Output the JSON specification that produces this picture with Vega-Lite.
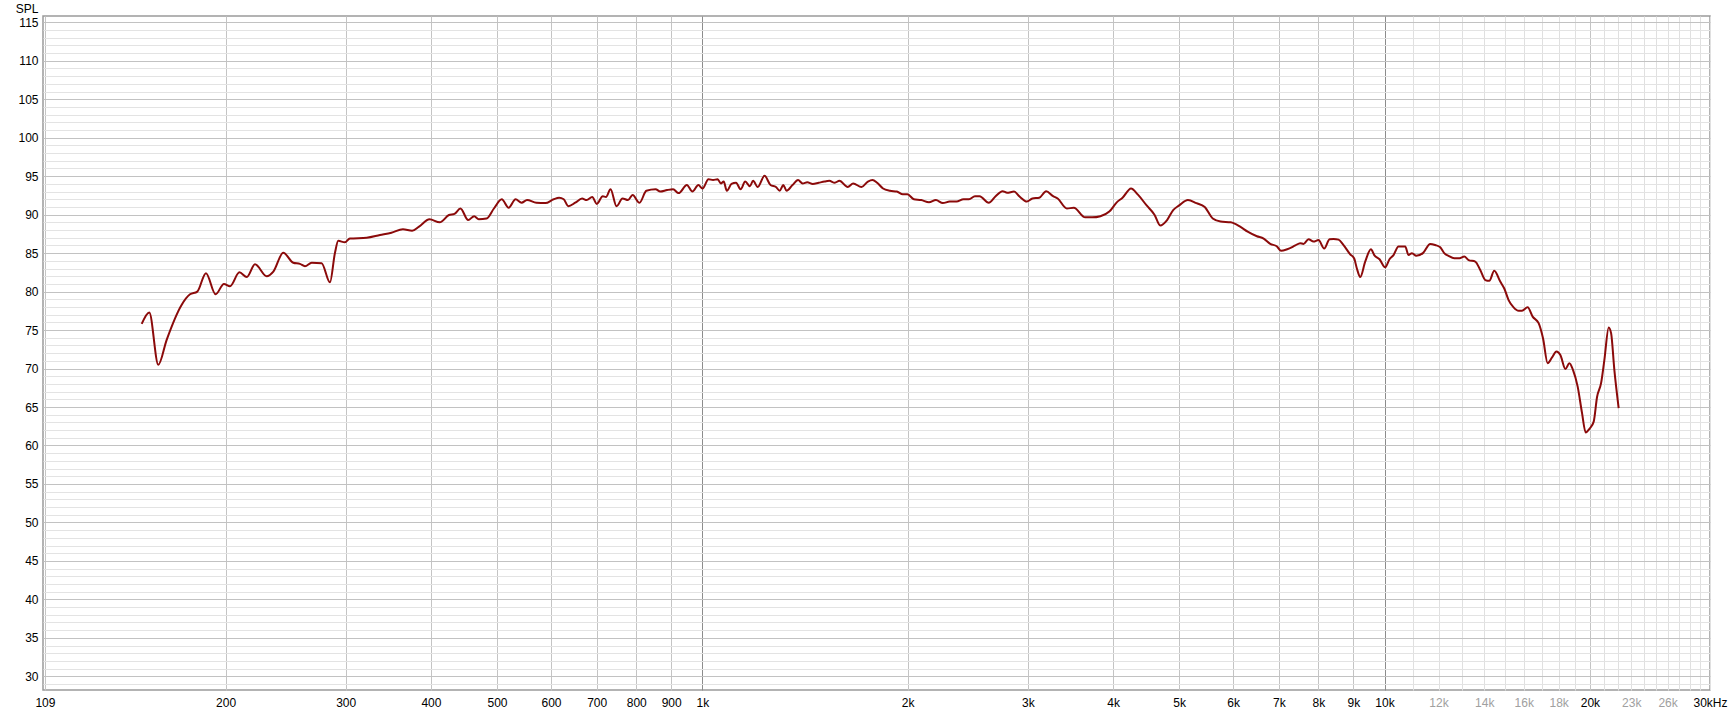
{
  "$schema": "https://vega.github.io/schema/vega-lite/v6.json",
  "width": 1667,
  "height": 674,
  "autosize": {"type": "none"},
  "padding": {"left": 43, "top": 16, "right": 22, "bottom": 25},
  "background": "#ffffff",
  "config": {
    "view": {"stroke": "#9a9a9a", "strokeWidth": 1.5},
    "font": "Liberation Sans",
    "axis": {"labelFont": "Liberation Sans", "labelFontSize": 12, "labelColor": "#000000", "titleFont": "Liberation Sans", "titleFontSize": 12, "titleFontWeight": "normal", "titleColor": "#000000", "domain": false, "ticks": false, "gridWidth": 1, "gridOpacity": 1}
  },
  "data": {
    "values": [
      {"f": 150.7, "spl": 75.8}, {"f": 154.6, "spl": 77.3}, {"f": 159.4, "spl": 70.5}, {"f": 163.9, "spl": 73.7},
      {"f": 172.5, "spl": 78.3}, {"f": 177.4, "spl": 79.65}, {"f": 181.8, "spl": 80.0}, {"f": 187.2, "spl": 82.4},
      {"f": 193.4, "spl": 79.65}, {"f": 198.9, "spl": 81.0}, {"f": 203, "spl": 80.7}, {"f": 209.6, "spl": 82.5},
      {"f": 214.9, "spl": 81.9}, {"f": 220.9, "spl": 83.55}, {"f": 229.8, "spl": 82.0}, {"f": 235, "spl": 82.6},
      {"f": 243, "spl": 85.05}, {"f": 251.4, "spl": 83.75}, {"f": 257.1, "spl": 83.6}, {"f": 261.5, "spl": 83.3},
      {"f": 267.5, "spl": 83.75}, {"f": 276.6, "spl": 83.7}, {"f": 284.5, "spl": 81.2}, {"f": 289.3, "spl": 85.0},
      {"f": 292.6, "spl": 86.6}, {"f": 299.2, "spl": 86.4}, {"f": 304.3, "spl": 86.9}, {"f": 322.1, "spl": 87.0},
      {"f": 336.8, "spl": 87.35}, {"f": 350.1, "spl": 87.65}, {"f": 364, "spl": 88.1}, {"f": 375.4, "spl": 87.9},
      {"f": 384.3, "spl": 88.45}, {"f": 398.2, "spl": 89.4}, {"f": 412.1, "spl": 89.0}, {"f": 425.1, "spl": 89.95},
      {"f": 433.1, "spl": 90.1}, {"f": 441.9, "spl": 90.8}, {"f": 453.6, "spl": 89.3}, {"f": 462.9, "spl": 89.8},
      {"f": 470.1, "spl": 89.4}, {"f": 482.7, "spl": 89.5}, {"f": 494.8, "spl": 90.8}, {"f": 508.1, "spl": 92.0},
      {"f": 520, "spl": 90.9}, {"f": 532.3, "spl": 92.0}, {"f": 543.2, "spl": 91.55}, {"f": 553.3, "spl": 91.9},
      {"f": 571.1, "spl": 91.55}, {"f": 588.6, "spl": 91.5}, {"f": 605.3, "spl": 92.0}, {"f": 616.6, "spl": 92.2},
      {"f": 626.3, "spl": 92.0}, {"f": 636, "spl": 91.1}, {"f": 651.1, "spl": 91.55}, {"f": 666.3, "spl": 92.1},
      {"f": 676.7, "spl": 91.9}, {"f": 689.5, "spl": 92.3}, {"f": 700.2, "spl": 91.4}, {"f": 714.5, "spl": 92.4},
      {"f": 722.3, "spl": 92.3}, {"f": 733.5, "spl": 93.3}, {"f": 748.5, "spl": 91.1}, {"f": 763.8, "spl": 92.1},
      {"f": 778.1, "spl": 91.9}, {"f": 790.2, "spl": 92.55}, {"f": 808.8, "spl": 91.55}, {"f": 827.8, "spl": 93.1},
      {"f": 854, "spl": 93.3}, {"f": 867.4, "spl": 93.0}, {"f": 887.9, "spl": 93.2}, {"f": 906, "spl": 93.3},
      {"f": 923, "spl": 92.8}, {"f": 949.1, "spl": 93.85}, {"f": 966.9, "spl": 93.0}, {"f": 986.7, "spl": 93.85},
      {"f": 1000.5, "spl": 93.4}, {"f": 1020.9, "spl": 94.6}, {"f": 1036.8, "spl": 94.5}, {"f": 1053, "spl": 94.6},
      {"f": 1064.5, "spl": 94.05}, {"f": 1074.6, "spl": 94.3}, {"f": 1086.2, "spl": 93.1}, {"f": 1103.3, "spl": 94.0},
      {"f": 1120.4, "spl": 94.15}, {"f": 1138, "spl": 93.3}, {"f": 1155.7, "spl": 94.3}, {"f": 1174, "spl": 93.7},
      {"f": 1186.8, "spl": 94.4}, {"f": 1205.4, "spl": 93.6}, {"f": 1233.6, "spl": 95.05}, {"f": 1258.6, "spl": 93.85},
      {"f": 1282.1, "spl": 93.6}, {"f": 1298.1, "spl": 93.1}, {"f": 1314.3, "spl": 93.85}, {"f": 1328.8, "spl": 93.1},
      {"f": 1355.7, "spl": 93.85}, {"f": 1381.2, "spl": 94.5}, {"f": 1402.8, "spl": 94.05}, {"f": 1424.8, "spl": 94.2},
      {"f": 1451.6, "spl": 94.0}, {"f": 1481, "spl": 94.15}, {"f": 1511.2, "spl": 94.3}, {"f": 1534.8, "spl": 94.4},
      {"f": 1563.7, "spl": 94.15}, {"f": 1588.2, "spl": 94.4}, {"f": 1633.4, "spl": 93.6}, {"f": 1663.8, "spl": 94.05},
      {"f": 1711.1, "spl": 93.6}, {"f": 1748.6, "spl": 94.3}, {"f": 1775.8, "spl": 94.5}, {"f": 1803.7, "spl": 94.15},
      {"f": 1840.3, "spl": 93.4}, {"f": 1883.6, "spl": 93.1}, {"f": 1927.9, "spl": 93.0}, {"f": 1967.3, "spl": 92.65},
      {"f": 1998, "spl": 92.65}, {"f": 2042, "spl": 92.0}, {"f": 2093.4, "spl": 91.9}, {"f": 2149, "spl": 91.6},
      {"f": 2199.7, "spl": 91.9}, {"f": 2251.5, "spl": 91.5}, {"f": 2304.5, "spl": 91.7}, {"f": 2358.7, "spl": 91.7},
      {"f": 2414.2, "spl": 92.0}, {"f": 2459.7, "spl": 92.0}, {"f": 2509.5, "spl": 92.4}, {"f": 2549, "spl": 92.4},
      {"f": 2628.9, "spl": 91.55}, {"f": 2690.8, "spl": 92.4}, {"f": 2754.7, "spl": 93.05}, {"f": 2797.5, "spl": 92.85},
      {"f": 2863.3, "spl": 93.0}, {"f": 2917.2, "spl": 92.35}, {"f": 2990.6, "spl": 91.7}, {"f": 3046.5, "spl": 92.1},
      {"f": 3118.2, "spl": 92.2}, {"f": 3191.6, "spl": 93.05}, {"f": 3266.7, "spl": 92.4}, {"f": 3318, "spl": 92.1},
      {"f": 3422.8, "spl": 90.8}, {"f": 3503.3, "spl": 90.9}, {"f": 3641.6, "spl": 89.65}, {"f": 3727.3, "spl": 89.65},
      {"f": 3832.6, "spl": 89.8}, {"f": 3950, "spl": 90.4}, {"f": 4050, "spl": 91.6}, {"f": 4130, "spl": 92.2},
      {"f": 4250, "spl": 93.4}, {"f": 4350, "spl": 92.6}, {"f": 4480, "spl": 91.2}, {"f": 4600, "spl": 90.0},
      {"f": 4690, "spl": 88.6}, {"f": 4800, "spl": 89.3}, {"f": 4900, "spl": 90.6}, {"f": 5000, "spl": 91.2},
      {"f": 5150, "spl": 91.9}, {"f": 5300, "spl": 91.5}, {"f": 5450, "spl": 91.0}, {"f": 5600, "spl": 89.5},
      {"f": 5750, "spl": 89.1}, {"f": 5950, "spl": 89.0}, {"f": 6150, "spl": 88.4}, {"f": 6300, "spl": 87.8},
      {"f": 6500, "spl": 87.2}, {"f": 6650, "spl": 86.9}, {"f": 6800, "spl": 86.2}, {"f": 6950, "spl": 85.9},
      {"f": 7050, "spl": 85.3}, {"f": 7200, "spl": 85.5}, {"f": 7400, "spl": 86.0}, {"f": 7522, "spl": 86.3},
      {"f": 7606, "spl": 86.2}, {"f": 7737, "spl": 86.8}, {"f": 7869, "spl": 86.5}, {"f": 8003, "spl": 86.7},
      {"f": 8158, "spl": 85.6}, {"f": 8307, "spl": 86.8}, {"f": 8418, "spl": 86.85}, {"f": 8562, "spl": 86.75},
      {"f": 8708, "spl": 86.05}, {"f": 8906, "spl": 84.85}, {"f": 9027, "spl": 84.3}, {"f": 9109, "spl": 83.0},
      {"f": 9213, "spl": 81.9}, {"f": 9369, "spl": 83.9}, {"f": 9552, "spl": 85.5}, {"f": 9659, "spl": 84.75},
      {"f": 9833, "spl": 84.2}, {"f": 10024, "spl": 83.15}, {"f": 10169, "spl": 84.2}, {"f": 10308, "spl": 84.75},
      {"f": 10484, "spl": 85.85}, {"f": 10723, "spl": 85.85}, {"f": 10844, "spl": 84.75}, {"f": 10970, "spl": 85.0},
      {"f": 11130, "spl": 84.65}, {"f": 11384, "spl": 85.0}, {"f": 11668, "spl": 86.2}, {"f": 11866, "spl": 86.05},
      {"f": 12070, "spl": 85.75}, {"f": 12232, "spl": 85.0}, {"f": 12411, "spl": 84.65}, {"f": 12654, "spl": 84.35},
      {"f": 12882, "spl": 84.35}, {"f": 13089, "spl": 84.55}, {"f": 13281, "spl": 84.1}, {"f": 13584, "spl": 83.9},
      {"f": 13815, "spl": 82.8}, {"f": 14052, "spl": 81.5}, {"f": 14241, "spl": 81.4}, {"f": 14483, "spl": 82.7},
      {"f": 14779, "spl": 81.3}, {"f": 14981, "spl": 80.4}, {"f": 15201, "spl": 78.9}, {"f": 15460, "spl": 77.95},
      {"f": 15726, "spl": 77.5}, {"f": 15904, "spl": 77.5}, {"f": 16210, "spl": 77.95}, {"f": 16486, "spl": 76.75},
      {"f": 16823, "spl": 75.9}, {"f": 17077, "spl": 73.9}, {"f": 17343, "spl": 70.7}, {"f": 17604, "spl": 71.45},
      {"f": 17863, "spl": 72.2}, {"f": 18104, "spl": 71.75}, {"f": 18415, "spl": 69.95}, {"f": 18663, "spl": 70.7},
      {"f": 18896, "spl": 69.8}, {"f": 19193, "spl": 67.65}, {"f": 19478, "spl": 64.2}, {"f": 19718, "spl": 61.7},
      {"f": 19987, "spl": 62.2}, {"f": 20260, "spl": 63.1}, {"f": 20490, "spl": 66.3}, {"f": 20770, "spl": 68.1},
      {"f": 21002, "spl": 71.1}, {"f": 21313, "spl": 75.35}, {"f": 21485, "spl": 74.6}, {"f": 21724, "spl": 69.8},
      {"f": 22042, "spl": 64.85}
    ]
  },
  "mark": {"type": "line", "color": "#8b0a0a", "strokeWidth": 2, "interpolate": "monotone", "clip": true},
  "encoding": {
    "x": {
      "field": "f", "type": "quantitative",
      "scale": {"type": "log", "domain": [108, 30000], "nice": false, "zero": false},
      "axis": {
        "title": null,
        "values": [108.7, 200, 300, 400, 500, 600, 700, 800, 900, 1000, 2000, 3000, 4000, 5000, 6000, 7000, 8000, 9000, 10000, 11000, 12000, 13000, 14000, 15000, 16000, 17000, 18000, 19000, 20000, 21000, 22000, 23000, 24000, 25000, 26000, 27000, 28000, 29000, 30000],
        "labelExpr": "datum.value < 150 ? '109' : datum.value >= 30000 ? '30kHz' : datum.value < 1000 ? format(datum.value, 'd') : (indexof([1,2,3,4,5,6,7,8,9,10,12,14,16,18,20,23,26], round(datum.value/1000)) >= 0 ? round(datum.value/1000) + 'k' : '')",
        "labelColor": {"condition": {"test": "indexof([12000,14000,16000,18000,23000,26000], datum.value) >= 0", "value": "#a0a0a0"}, "value": "#000000"},
        "gridColor": {"condition": [{"test": "datum.value == 1000 || datum.value == 10000", "value": "#8c8c8c"}, {"test": "datum.value > 10000 && datum.value != 20000", "value": "#e0e0e0"}], "value": "#c4c4c4"},
        "labelPadding": 7,
        "labelBaseline": "top",
        "labelOverlap": false,
        "labelBound": false,
        "labelFlush": false
      }
    },
    "y": {
      "field": "spl", "type": "quantitative",
      "scale": {"domain": [28.22, 115.82], "nice": false, "zero": false},
      "axis": {
        "title": "SPL",
        "titleAngle": 0,
        "titleAlign": "right",
        "titleBaseline": "alphabetic",
        "titleX": -5,
        "titleY": -4,
        "values": [29, 30, 31, 32, 33, 34, 35, 36, 37, 38, 39, 40, 41, 42, 43, 44, 45, 46, 47, 48, 49, 50, 51, 52, 53, 54, 55, 56, 57, 58, 59, 60, 61, 62, 63, 64, 65, 66, 67, 68, 69, 70, 71, 72, 73, 74, 75, 76, 77, 78, 79, 80, 81, 82, 83, 84, 85, 86, 87, 88, 89, 90, 91, 92, 93, 94, 95, 96, 97, 98, 99, 100, 101, 102, 103, 104, 105, 106, 107, 108, 109, 110, 111, 112, 113, 114, 115],
        "labelExpr": "datum.value % 5 == 0 ? datum.value : ''",
        "gridColor": {"condition": {"test": "datum.value % 5 == 0", "value": "#c2c2c2"}, "value": "#e3e3e3"},
        "labelPadding": 5,
        "labelOverlap": false,
        "labelBound": false,
        "labelFlush": false
      }
    }
  }
}
